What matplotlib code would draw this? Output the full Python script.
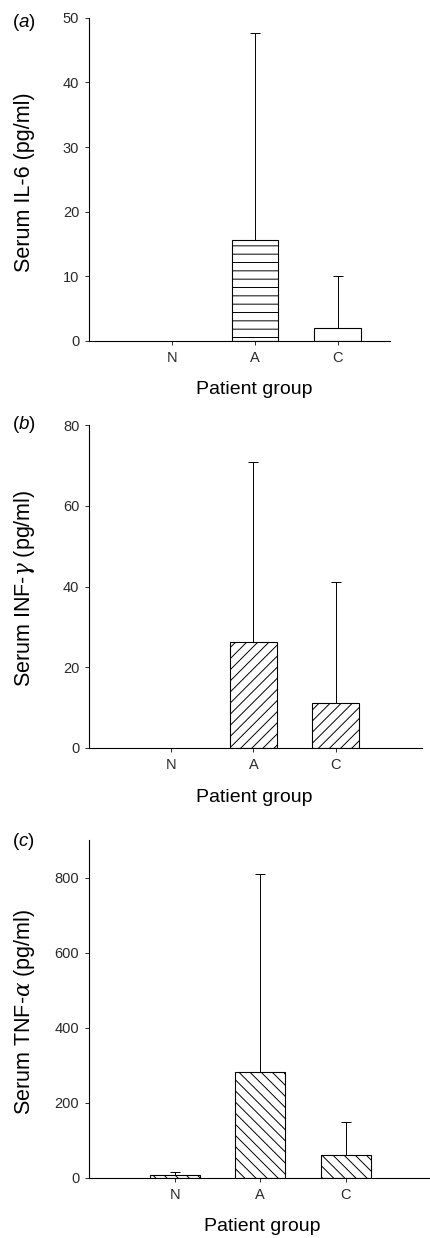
import numpy as np
import matplotlib
matplotlib.use('Agg')
import matplotlib.pyplot as plt

plt.rcParams['font.family'] = ['Liberation Sans', 'DejaVu Sans']
plt.rcParams['hatch.linewidth'] = 0.7
plt.rcParams['mathtext.fontset'] = 'custom'
plt.rcParams['mathtext.rm'] = 'Liberation Sans'
plt.rcParams['mathtext.it'] = 'DejaVu Serif:italic'
plt.rcParams['mathtext.sf'] = 'Liberation Sans:italic'

# Данные: группы пациентов, средние и верхние погрешности
groups = ['N', 'A', 'C']
il6_mean = [0, 15.6, 2.0]
il6_err = [0, 32.0, 8.0]
inf_mean = [0, 26.3, 11.1]
inf_err = [0, 44.5, 30.1]
tnf_mean = [7, 282, 61]
tnf_err = [8, 528, 87]

panels = [
    # (метка, ylabel, средние, ошибки, yticks, ylim, hatch, позиция осей, xlim, ширина)
    ('a', 'Serum IL-6 (pg/ml)', il6_mean, il6_err, [0, 10, 20, 30, 40, 50], 50,
     ['', '--', ''], [0.2065, 0.7246, 0.698, 0.261], 3.63, 0.56),
    ('b', r'Serum INF-$\gamma$ (pg/ml)', inf_mean, inf_err, [0, 20, 40, 60, 80], 80,
     ['', '///', '///'], [0.2065, 0.3958, 0.7726, 0.2609], 4.05, 0.57),
    ('c', r'Serum TNF-$\alpha$ (pg/ml)', tnf_mean, tnf_err, [0, 200, 400, 600, 800], 900,
     ['\\\\\\', '\\\\\\', '\\\\\\'], [0.2065, 0.0485, 0.791, 0.273], 3.98, 0.58),
]

ylabel_y = [0.853, 0.525, 0.183]
panel_label_y = [0.982, 0.657, 0.320]
xlabel_pos = [(0.55, -0.151), (0.495, -0.152), (0.507, -0.145)]

fig = plt.figure(figsize=(4.31, 12.38), dpi=100)

for i, (lab, ylab, means, errs, yticks, ytop, hatches, pos, xmax, width) in enumerate(panels):
    ax = fig.add_axes(pos)
    x = np.arange(1, len(groups) + 1)
    for xi, m, h in zip(x, means, hatches):
        if m > 0:
            ax.bar(xi, m, width=width, color='white', edgecolor='black',
                   linewidth=0.8, hatch=h, zorder=2)
    errs = np.array(errs, dtype=float)
    mask = errs > 0
    ax.errorbar(x[mask], np.array(means)[mask], yerr=[np.zeros(mask.sum()), errs[mask]],
                fmt='none', ecolor='black', elinewidth=0.7, capsize=3.5, capthick=0.7, zorder=1)

    ax.set_xlim(0, xmax)
    ax.set_ylim(0, ytop)
    ax.set_yticks(yticks)
    ax.set_xticks(x)
    ax.set_xticklabels(groups)
    ax.spines['top'].set_visible(False)
    ax.spines['right'].set_visible(False)
    ax.spines['left'].set_linewidth(0.8)
    ax.spines['bottom'].set_linewidth(0.8)
    ax.tick_params(axis='both', length=3, width=0.7, labelsize=10.5, colors='#2a2a2a', pad=4)

    ax.text(xlabel_pos[i][0], xlabel_pos[i][1], 'Patient group', transform=ax.transAxes,
            ha='center', va='center', fontsize=14)
    fig.text(0.056, ylabel_y[i], ylab, rotation=90, ha='center', va='center', fontsize=15.5)
    fig.text(0.028, panel_label_y[i], '(' + r'$\mathsf{' + lab + '}$' + ')', ha='left',
             va='center', fontsize=13.5)

fig.savefig('out.png', dpi=100)
